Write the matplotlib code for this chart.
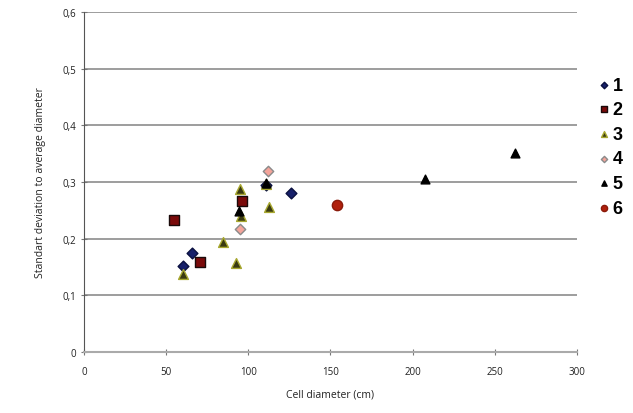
import matplotlib
matplotlib.use("Agg")
import matplotlib.pyplot as plt

# Data
s1_x = [60, 66, 111, 126]
s1_y = [0.151, 0.174, 0.295, 0.280]
s2_x = [55, 70.5, 96]
s2_y = [0.233, 0.158, 0.266]
s3_x = [60, 84.5, 92.5, 95, 95.5, 112.5, 111]
s3_y = [0.138, 0.194, 0.157, 0.288, 0.240, 0.256, 0.296]
s4_x = [94.7, 112.2]
s4_y = [0.217, 0.319]
s5_x = [94.5, 110.5, 207.5, 262.5]
s5_y = [0.248, 0.298, 0.305, 0.351]
s6_x = [154.2]
s6_y = [0.260]
labels = ["1", "2", "3", "4", "5", "6"]
xticks = [0, 50, 100, 150, 200, 250, 300]
yticks = [0, 0.1, 0.2, 0.3, 0.4, 0.5, 0.6]
ytick_labels = ["0", "0,1", "0,2", "0,3", "0,4", "0,5", "0,6"]

plt.rcParams['font.family'] = ['Open Sans', 'DejaVu Sans']
fig = plt.figure(figsize=(6.33, 4.14), dpi=100)
ax = fig.add_axes([0.1327, 0.1473, 0.9115 - 0.1327, 0.9686 - 0.1473])

styles = [
    dict(x=s1_x, y=s1_y, marker='D', s=30, fc='#17206a', ec='#0a1040'),
    dict(x=s2_x, y=s2_y, marker='s', s=42, fc='#7a0a0a', ec='#1a0a0a'),
    dict(x=s3_x, y=s3_y, marker='^', s=50, fc='#3a3a12', ec='#a8a830'),
    dict(x=s4_x, y=s4_y, marker='D', s=28, fc='#f4a49a', ec='#8a8a8a'),
    dict(x=s5_x, y=s5_y, marker='^', s=40, fc='#000000', ec='#000000'),
    dict(x=s6_x, y=s6_y, marker='o', s=55, fc='#b0200c', ec='#8a1a0a'),
]
handles = []
for st, lab in zip(styles, labels):
    h = ax.scatter(st['x'], st['y'], marker=st['marker'], s=st['s'],
                   facecolor=st['fc'], edgecolor=st['ec'], linewidths=1.0,
                   zorder=3, label=lab)
    handles.append(h)

ax.set_xlim(0, 300)
ax.set_ylim(0, 0.6)
ax.set_xticks(xticks)
ax.set_yticks(yticks)
ax.set_yticklabels(ytick_labels)
ax.yaxis.grid(True, color='#8c8c8c', linewidth=1.2)
ax.set_axisbelow(True)
for sp in ['top', 'right']:
    ax.spines[sp].set_visible(False)
ax.spines['left'].set_color('#555555')
ax.spines['bottom'].set_color('#aaaaaa')
ax.spines['bottom'].set_linewidth(1.5)
ax.tick_params(axis='both', labelsize=7, direction='inout', length=4,
               color='#777777', labelcolor='#222222')
ax.tick_params(axis='x', pad=8)
ax.set_xlabel("Cell diameter (cm)", fontsize=7.5, labelpad=8, color='#222222')
ax.set_ylabel("Standart deviation to average diameter", fontsize=7.5,
              labelpad=12, color='#222222')

leg = fig.legend(handles=handles, labels=labels, loc='upper left',
                 bbox_to_anchor=(0.928, 0.83), frameon=False,
                 prop=dict(family=['Liberation Sans', 'DejaVu Sans'],
                           weight='bold', size=13),
                 handletextpad=0.0, labelspacing=0.42, markerscale=0.6,
                 handlelength=1.0, borderaxespad=0)

fig.savefig("out.png", dpi=100)
